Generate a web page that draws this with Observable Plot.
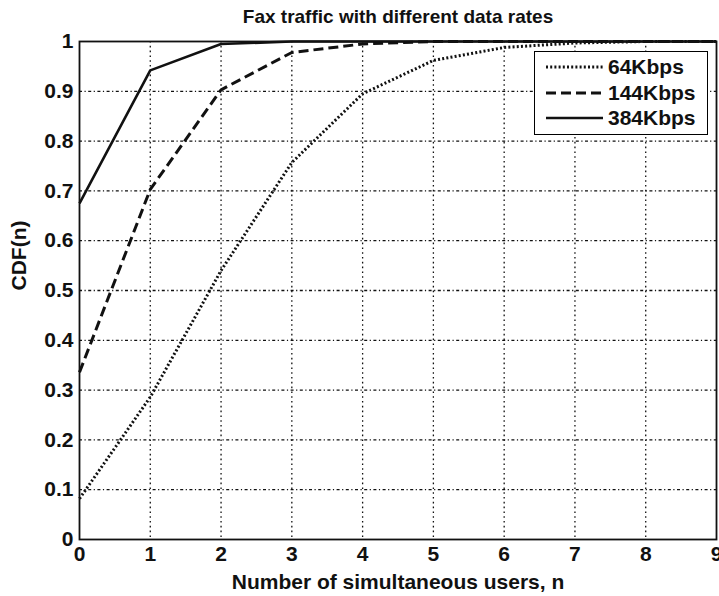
<!DOCTYPE html>
<html>
<head>
<meta charset="utf-8">
<script src="https://cdn.jsdelivr.net/npm/d3@7"></script>
<script src="https://cdn.jsdelivr.net/npm/@observablehq/plot@0.6"></script>
<style>
  html, body { margin: 0; padding: 0; background: #fff; }
  #wrap { position: relative; width: 719px; height: 596px; font-family: "Liberation Sans", Arial, sans-serif; font-weight: bold; }
  #legend { position: absolute; left: 534px; top: 51px; width: 172px; height: 82px; border: 1.5px solid #000; background: #fff; }
  .row { position: absolute; left: 0; height: 24px; display: flex; align-items: center; }
  .row svg { margin-left: 11px; }
  .row span { margin-left: 5px; font-size: 21px; color: #111; }
</style>
</head>
<body>
<div id="wrap"></div>
<script>
const title = "Fax traffic with different data rates";
const xLabel = "Number of simultaneous users, n";
const yLabel = "CDF(n)";
const users = [0, 1, 2, 3, 4, 5, 6, 7, 8, 9];
const seriesNames = ["64Kbps", "144Kbps", "384Kbps"];
const cdf64 = [0.082, 0.286, 0.540, 0.757, 0.895, 0.962, 0.988, 0.997, 1, 1];
const cdf144 = [0.336, 0.703, 0.903, 0.978, 0.995, 1, 1, 1, 1, 1];
const cdf384 = [0.675, 0.942, 0.995, 1, 1, 1, 1, 1, 1, 1];
const xTicks = [0, 1, 2, 3, 4, 5, 6, 7, 8, 9];
const yTicks = [0, 0.1, 0.2, 0.3, 0.4, 0.5, 0.6, 0.7, 0.8, 0.9, 1];

const styles = {
  "64Kbps": {dash: "2,2.2", width: 3},
  "144Kbps": {dash: "10,5", width: 3},
  "384Kbps": {dash: null, width: 2.6}
};

const allSeries = [cdf64, cdf144, cdf384];
const data = [];
seriesNames.forEach((name, i) => {
  users.forEach((n, j) => data.push({series: name, n, v: allSeries[i][j]}));
});

const font = "Liberation Sans, Arial, sans-serif";

const lineMarks = seriesNames.map(name =>
  Plot.line(data.filter(d => d.series === name), {
    x: "n", y: "v", stroke: "#111", strokeWidth: styles[name].width,
    strokeDasharray: styles[name].dash, strokeLinejoin: "round", strokeLinecap: "butt"
  })
);

const chart = Plot.plot({
  width: 719,
  height: 596,
  marginLeft: 79,
  marginRight: 3,
  marginTop: 41,
  marginBottom: 57,
  style: {fontFamily: font, fontWeight: "bold", fontSize: "21px", color: "#111", background: "#fff"},
  x: {domain: [0, 9]},
  y: {domain: [0, 1]},
  marks: [
    Plot.ruleY(yTicks.slice(1, -1), {stroke: "#111", strokeWidth: 1.3, strokeDasharray: "3,2.5,1.2,2.5"}),
    Plot.ruleX(xTicks.slice(1, -1), {stroke: "#111", strokeWidth: 1.3, strokeDasharray: "1.6,3.2"}),
    ...lineMarks,
    Plot.frame({stroke: "#111", strokeWidth: 1.8}),
    Plot.axisX(xTicks, {tickSize: 0, tickPadding: 7, label: null, fontSize: 21, fontWeight: "bold"}),
    Plot.axisY(yTicks, {tickSize: 0, tickPadding: 6, label: null, fontSize: 21, fontWeight: "bold", tickFormat: d => String(+d.toFixed(1))}),
    Plot.text([title], {text: d => d, frameAnchor: "top", dy: -25, fontSize: 19, fontWeight: "bold", lineAnchor: "middle"}),
    Plot.text([xLabel], {text: d => d, frameAnchor: "bottom", dy: 43, fontSize: 21, fontWeight: "bold", lineAnchor: "middle"}),
    Plot.text([yLabel], {text: d => d, frameAnchor: "left", dx: -60, rotate: -90, fontSize: 21, fontWeight: "bold", lineAnchor: "middle"})
  ]
});

const wrap = document.getElementById("wrap");
wrap.appendChild(chart);

const legend = document.createElement("div");
legend.id = "legend";
const rowTops = [3, 29, 54];
seriesNames.forEach((name, i) => {
  const row = document.createElement("div");
  row.className = "row";
  row.style.top = rowTops[i] + "px";
  const s = styles[name];
  row.innerHTML = `<svg width="57" height="10"><line x1="0" y1="5" x2="57" y2="5" stroke="#111" stroke-width="${s.width}" ${s.dash ? `stroke-dasharray="${s.dash}"` : ""}/></svg><span>${name}</span>`;
  legend.appendChild(row);
});
wrap.appendChild(legend);
</script>
</body>
</html>
